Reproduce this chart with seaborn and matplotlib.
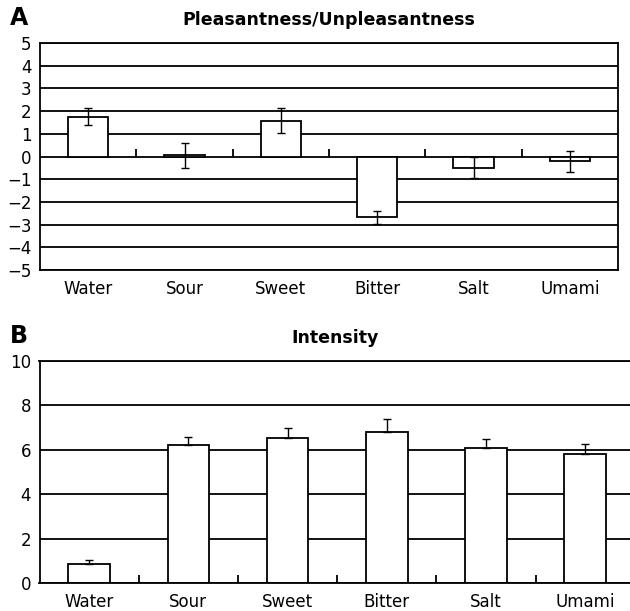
import numpy as np
import pandas as pd
import matplotlib
matplotlib.use("Agg")
import matplotlib.pyplot as plt
import seaborn as sns

categories = ["Water", "Sour", "Sweet", "Bitter", "Salt", "Umami"]
pleasant_mean = [1.75, 0.05, 1.57, -2.68, -0.49, -0.21]
pleasant_err = [0.38, 0.55, 0.55, 0.30, 0.47, 0.47]
intensity_mean = [0.87, 6.20, 6.55, 6.82, 6.10, 5.81]
intensity_err = [0.18, 0.37, 0.42, 0.57, 0.39, 0.46]
pleasant_ticks = list(range(-5, 6))
intensity_ticks = [0, 2, 4, 6, 8, 10]

sns.set_theme(style="white")
plt.rcParams["font.family"] = ["DejaVu Sans"]
plt.rcParams["text.color"] = "black"
plt.rcParams["axes.labelcolor"] = "black"
plt.rcParams["axes.titlecolor"] = "black"

fig = plt.figure(figsize=(6.3, 6.11), dpi=100)
axA = fig.add_axes([40/630, 1-270/611, (618-40)/630, (270-43)/611])
axB = fig.add_axes([39.5/630, 1-583.3/611, (630-39.5)/630, (583.3-361)/611])

LW = 1.3
BW = 0.42
n = len(categories)

def style_common(ax):
    ax.set_xlabel("")
    ax.set_ylabel("")
    ax.yaxis.grid(True, color="black", linewidth=LW)
    ax.xaxis.grid(False)
    ax.set_axisbelow(True)
    ax.tick_params(axis="y", length=0, pad=6, labelsize=12, labelcolor="black")
    ax.tick_params(axis="x", which="major", length=0, pad=7, labelsize=12, labelcolor="black")

# Panel A
dfA = pd.DataFrame({"taste": categories, "value": pleasant_mean})
sns.barplot(data=dfA, x="taste", y="value", ax=axA, color="white",
            edgecolor="black", linewidth=LW, width=BW, saturation=1, errorbar=None)
for p in axA.patches:
    p.set_facecolor("white")
axA.errorbar(np.arange(n), pleasant_mean, yerr=pleasant_err, fmt="none",
             ecolor="black", elinewidth=1.0, capsize=3, capthick=1.0, zorder=5)
axA.set_ylim(-5, 5)
axA.set_yticks(pleasant_ticks)
axA.set_yticklabels([str(t).replace("-", "\u2212") for t in pleasant_ticks])
axA.set_xlim(-0.5, n - 0.5)
style_common(axA)
for s in axA.spines.values():
    s.set_visible(True)
    s.set_color("black")
    s.set_linewidth(LW)
bounds = np.arange(n - 1) + 0.5
axA.vlines(bounds, 0, 0.35, color="black", linewidth=LW, zorder=4)
axA.set_title("Pleasantness/Unpleasantness", fontsize=12.5, fontweight="bold",
              pad=13, color="black")

# Panel B
dfB = pd.DataFrame({"taste": categories, "value": intensity_mean})
sns.barplot(data=dfB, x="taste", y="value", ax=axB, color="white",
            edgecolor="black", linewidth=LW, width=BW, saturation=1, errorbar=None)
for p in axB.patches:
    p.set_facecolor("white")
axB.errorbar(np.arange(n), intensity_mean, yerr=[np.zeros(n), intensity_err], fmt="none",
             ecolor="black", elinewidth=1.0, capsize=3, capthick=1.0, zorder=5)
axB.set_ylim(0, 10)
axB.set_yticks(intensity_ticks)
axB.set_xlim(-0.5, 5.45)
style_common(axB)
axB.spines["right"].set_visible(False)
for k in ["left", "bottom", "top"]:
    axB.spines[k].set_visible(True)
    axB.spines[k].set_color("black")
    axB.spines[k].set_linewidth(LW)
axB.set_xticks(bounds, minor=True)
axB.tick_params(axis="x", which="minor", direction="in", length=6, width=LW, color="black", bottom=True)
axB.set_title("Intensity", fontsize=12.5, fontweight="bold", pad=13, color="black")

fig.text(10/630, 1-18/611, "A", fontsize=17, fontweight="bold", va="center", ha="left", color="black")
fig.text(10/630, 1-336/611, "B", fontsize=17, fontweight="bold", va="center", ha="left", color="black")

fig.savefig("out.png", dpi=100, facecolor="white")
